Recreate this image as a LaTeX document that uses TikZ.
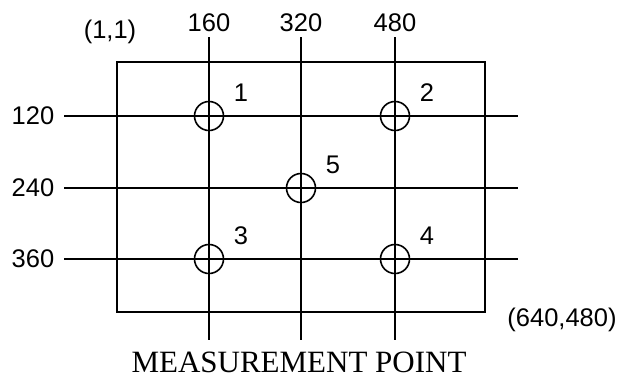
\documentclass[tikz,border=0pt]{standalone}
\usepackage{fontspec}
\setmainfont{Liberation Sans}
\newfontfamily\captionserif{Liberation Serif}
\begin{document}
\begin{tikzpicture}[x=1pt, y=-1pt, line width=1.6pt]
    \tikzstyle{point}=[draw,shape=circle,minimum size=29pt,inner sep=0pt]
    \tikzstyle{num}=[font=\fontsize{25.5}{30}\selectfont,inner sep=0pt]
    \useasboundingbox (0,0) rectangle (621,376);

    % draw frame
    \coordinate (frame-tl) at (117,62);
    \coordinate (frame-br) at (485,312);
    \draw (frame-tl) rectangle (frame-br);
    \node [num] (corner-tl) at (110,32) {(1,1)};
    \node [num] (corner-br) at (562,320) {(640,480)};

    % draw grid lines
    \foreach \l/\x in {160/209, 320/301, 480/395} {
    \node [num] (col-\l) at (\x,23) {\l};
    \coordinate (coltop-\l) at (\x,37);
    \coordinate (colbot-\l) at (\x,340);
    \draw (coltop-\l) -- (colbot-\l);};

    \foreach \l/\y in {120/116, 240/188, 360/259} {
    \node [num] (row-\l) at (33,\y) {\l};
    \coordinate (rowleft-\l) at (64,\y);
    \coordinate (rowright-\l) at (518,\y);
    \draw (rowleft-\l) -- (rowright-\l);};

    % draw measurement points
    \foreach \n/\x/\y in {1/209/116, 2/395/116, 3/209/259, 4/395/259, 5/301/188} {
    \node [point] (point-\n) at (\x,\y) {};
    \node [num] (label-\n) at ([shift={(32,-23)}]point-\n.center) {\n};};

    \node [font=\captionserif\fontsize{31}{34}\selectfont, inner sep=0pt, anchor=base] (caption) at (299,372) {MEASUREMENT POINT};
\end{tikzpicture}
\end{document}
